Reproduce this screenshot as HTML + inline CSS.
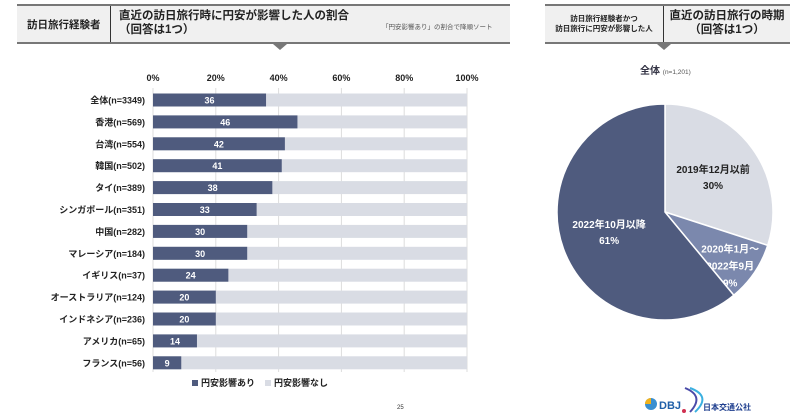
<!DOCTYPE html>
<html><head><meta charset="utf-8"><style>
body{margin:0;width:800px;height:415px;background:#fff;position:relative;overflow:hidden;font-family:"Liberation Sans","Noto Sans CJK JP",sans-serif;font-weight:bold;color:#222}
.hdr{position:absolute;background:#f0f0f0;border-top:2px solid #777;border-bottom:2px solid #777;box-sizing:border-box}
.abs{position:absolute;white-space:nowrap}
</style></head><body>
<div class="hdr" style="left:17px;top:4px;width:493px;height:40px"></div>
<div class="abs" style="left:110px;top:6px;width:1px;height:36px;background:#333"></div>
<div class="abs" style="left:27px;top:17px;font-size:10.5px">訪日旅行経験者</div>
<div class="abs" style="left:119px;top:9px;font-size:11.5px;line-height:14px">直近の訪日旅行時に円安が影響した人の割合<br>（回答は1つ）</div>
<div class="abs" style="left:382px;top:21px;font-size:6.5px;font-weight:normal;color:#555">「円安影響あり」の割合で降順ソート</div>
<div class="abs" style="left:273px;top:44px;width:0;height:0;border-left:7px solid transparent;border-right:7px solid transparent;border-top:6px solid #777"></div>

<div class="hdr" style="left:545px;top:4px;width:245px;height:40px"></div>
<div class="abs" style="left:663px;top:6px;width:1px;height:36px;background:#333"></div>
<div class="abs" style="left:545px;top:14px;width:118px;text-align:center;font-size:7.5px;line-height:10px">訪日旅行経験者かつ<br>訪日旅行に円安が影響した人</div>
<div class="abs" style="left:664px;top:9px;width:126px;text-align:center;font-size:11.5px;line-height:14px">直近の訪日旅行の時期<br>（回答は1つ）</div>
<div class="abs" style="left:657px;top:44px;width:0;height:0;border-left:7px solid transparent;border-right:7px solid transparent;border-top:6px solid #777"></div>
<div class="abs" style="left:640px;top:62px;font-size:10px;color:#334">全体 <span style="font-size:6.5px;font-weight:normal;color:#555">(n=1,201)</span></div>

<svg class="abs" style="left:0;top:0" width="800" height="415" id="svg">
<g id="bars"></g><g id="pie"></g>
<g>
<rect x="192" y="380" width="6" height="6" fill="#4f5b7e"/>
<text x="201" y="386" font-size="9" fill="#222">円安影響あり</text>
<rect x="265" y="380" width="6" height="6" fill="#d9dce4"/>
<text x="274" y="386" font-size="9" fill="#222">円安影響なし</text>
</g>
<text x="397" y="409" font-size="6" font-weight="normal" fill="#333">25</text>
<g><circle cx="651" cy="404" r="6" fill="#3a8fd0"/><path d="M645 404 A6 6 0 0 1 651 398 L651 404Z" fill="#f2b21a"/><text x="659" y="409" font-size="11" fill="#1f5fa8">DBJ</text></g>
<g><path d="M685 388 Q705 396 690 412" stroke="#4a4aa8" stroke-width="2" fill="none"/><path d="M690 388 Q712 396 695 412" stroke="#3bb0e0" stroke-width="2" fill="none"/><circle cx="684" cy="411" r="2" fill="#d03050"/><text x="703" y="410" font-size="8" fill="#1f3f8f">日本交通公社</text></g>
</svg>
<script>
const categories=["全体(n=3349)","香港(n=569)","台湾(n=554)","韓国(n=502)","タイ(n=389)","シンガポール(n=351)","中国(n=282)","マレーシア(n=184)","イギリス(n=37)","オーストラリア(n=124)","インドネシア(n=236)","アメリカ(n=65)","フランス(n=56)"];
const yesValues=[36,46,42,41,38,33,30,30,24,20,20,14,9];
const tickValues=[0,20,40,60,80,100];
const pieLabels=[["2019年12月以前","30%"],["2020年1月～","2022年9月","9%"],["2022年10月以降","61%"]];
const pieValues=[30,9,61];
const pieColors=["#d9dce4","#7b88ad","#4f5b7e"];
const NS="http://www.w3.org/2000/svg";
const x0=153,x1=467,yTop=100,step=21.9,bh=13;
const xs=v=>x0+(x1-x0)*v/100;
const ys=i=>yTop+i*step;
function mk(tag,attrs,parent){const e=document.createElementNS(NS,tag);for(const k in attrs)e.setAttribute(k,attrs[k]);parent.appendChild(e);return e;}
const bars=document.getElementById('bars');
tickValues.forEach(t=>{
 const l=mk('line',{x1:xs(t),x2:xs(t),y1:88,y2:372,stroke:'#ddd','stroke-width':1},bars);
 
 
 const tx=mk('text',{x:xs(t),y:81,'text-anchor':'middle','font-size':9,fill:'#222'},bars);
 tx.textContent=t+'%';
 
 
});
categories.forEach((c,i)=>{
 const y=ys(i);
 const bg=mk('rect',{x:xs(0),y:y-bh/2,width:xs(100)-xs(0),height:bh,fill:'#d9dce4'},bars);
 
 
 const r=mk('rect',{x:xs(0),y:y-bh/2,width:xs(yesValues[i])-xs(0),height:bh,fill:'#4f5b7e'},bars);
 
 
 const v=mk('text',{x:(xs(0)+xs(yesValues[i]))/2,y:y+3.5,'text-anchor':'middle','font-size':9,fill:'#fff'},bars);
 v.textContent=yesValues[i];
 
 
 const lb=mk('text',{x:145,y:y+3.5,'text-anchor':'end','font-size':9,fill:'#222'},bars);
 lb.textContent=c;
 
 
});
const pie=document.getElementById('pie');
const cx=665,cy=212,R=108;
const tot=pieValues.reduce((a,b)=>a+b,0);
let a0=-Math.PI/2;
pieValues.forEach((v,i)=>{
 const a1=a0+2*Math.PI*v/tot;
 const large=(a1-a0)>Math.PI?1:0;
 const d=`M${cx},${cy} L${cx+R*Math.cos(a0)},${cy+R*Math.sin(a0)} A${R},${R} 0 ${large} 1 ${cx+R*Math.cos(a1)},${cy+R*Math.sin(a1)} Z`;
 const p=mk('path',{d:d,fill:pieColors[i],stroke:'#fff','stroke-width':1.5},pie);
 
 
 const am=(a0+a1)/2, rr=i==1?R*0.73:R*0.55;
 const lx=cx+rr*Math.cos(am), ly=cy+rr*Math.sin(am)+(i==1?9:0);
 const lines=pieLabels[i];
 const gap=i==1?17:16;
 lines.forEach((s,j)=>{
  const t=mk('text',{x:lx,y:ly+(j-(lines.length-1)/2)*gap+4,'text-anchor':'middle','font-size':10,fill:i==0?'#222':'#fff'},pie);
  t.textContent=s;
  
  
 });
 a0=a1;
});
</script>
</body></html>
